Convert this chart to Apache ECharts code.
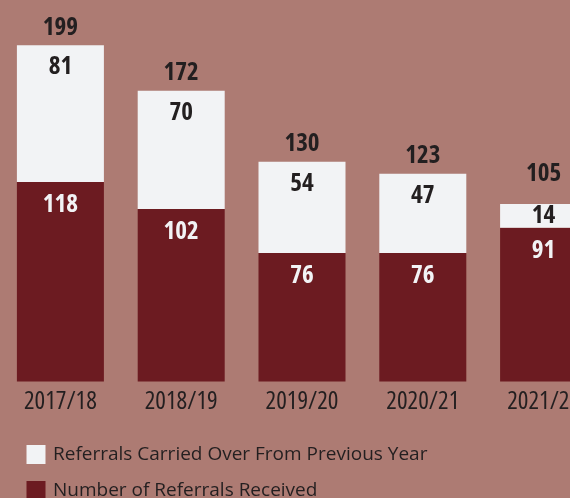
<!DOCTYPE html>
<html>
<head>
<meta charset="utf-8">
<script src="https://cdn.jsdelivr.net/npm/echarts@6/dist/echarts.min.js"></script>
<style>
  html, body { margin: 0; padding: 0; background: #ad7b73; }
  #chart { width: 570px; height: 498px; }
</style>
</head>
<body>
<div id="chart"></div>
<script>
// Referrals per financial year
const years = ['2017/18', '2018/19', '2019/20', '2020/21', '2021/22'];
const received = [118, 102, 76, 76, 91];
const carriedOver = [81, 70, 54, 47, 14];
const totals = [199, 172, 130, 123, 105];

const FONT = '"Open Sans", "Noto Sans", sans-serif';
const DARK_RED = '#6c1b21';
const LIGHT = '#f2f3f5';
const INK = '#231f20';
const SMALL_SEGMENT = 20; // segments below this get a centred label

const legendText = { fontFamily: FONT, fontSize: 19, color: INK, padding: [0, 0, 0, 2.5] };
const valueLabel = { fontFamily: FONT, fontStyle: 'condensed', fontWeight: 'bold', fontSize: 25 };

// thin top segments carry a centred label, so the total above is lifted clear of it
const carriedData = carriedOver.map(v =>
  v < SMALL_SEGMENT ? { value: v, label: { position: 'inside' } } : v);
const totalData = totals.map((t, i) =>
  carriedOver[i] < SMALL_SEGMENT ? { value: 0, label: { distance: 18 } } : 0);

const chart = echarts.init(document.getElementById('chart'));
chart.setOption({
  backgroundColor: '#ad7b73',
  animation: false,
  // the plot runs past the right edge, so the last year is partly cut off
  grid: { left: 0, width: 604, top: 43.5, bottom: 116.5, outerBoundsMode: 'none', containLabel: false },
  legend: [
    {
      left: 26.5, top: 445, padding: 0, itemWidth: 19, itemHeight: 19, icon: 'rect',
      data: ['Referrals Carried Over From Previous Year'], textStyle: legendText
    },
    {
      left: 26.5, top: 481, padding: 0, itemWidth: 19, itemHeight: 19, icon: 'rect',
      data: ['Number of Referrals Received'], textStyle: legendText
    }
  ],
  xAxis: {
    type: 'category',
    data: years,
    axisLine: { show: false },
    axisTick: { show: false },
    axisLabel: { fontFamily: FONT, fontStyle: 'condensed', fontSize: 25, color: INK, margin: 8 }
  },
  yAxis: { type: 'value', min: 0, max: 200, show: false, splitLine: { show: false } },
  series: [
    {
      name: 'Number of Referrals Received',
      type: 'bar',
      stack: 'total',
      barWidth: 87,
      data: received,
      itemStyle: { color: DARK_RED },
      label: Object.assign({ show: true, position: 'insideTop', distance: 10.5, color: LIGHT }, valueLabel)
    },
    {
      name: 'Referrals Carried Over From Previous Year',
      type: 'bar',
      stack: 'total',
      barWidth: 87,
      data: carriedData,
      itemStyle: { color: LIGHT },
      label: Object.assign({ show: true, position: 'insideTop', distance: 9.5, color: INK }, valueLabel)
    },
    {
      // zero-height cap that carries the yearly total above each stack
      name: 'total',
      type: 'bar',
      stack: 'total',
      barWidth: 87,
      data: totalData,
      itemStyle: { color: 'transparent' },
      label: Object.assign({
        show: true, position: 'top', distance: 5, color: INK,
        formatter: p => totals[p.dataIndex]
      }, valueLabel)
    }
  ]
});
</script>
</body>
</html>
